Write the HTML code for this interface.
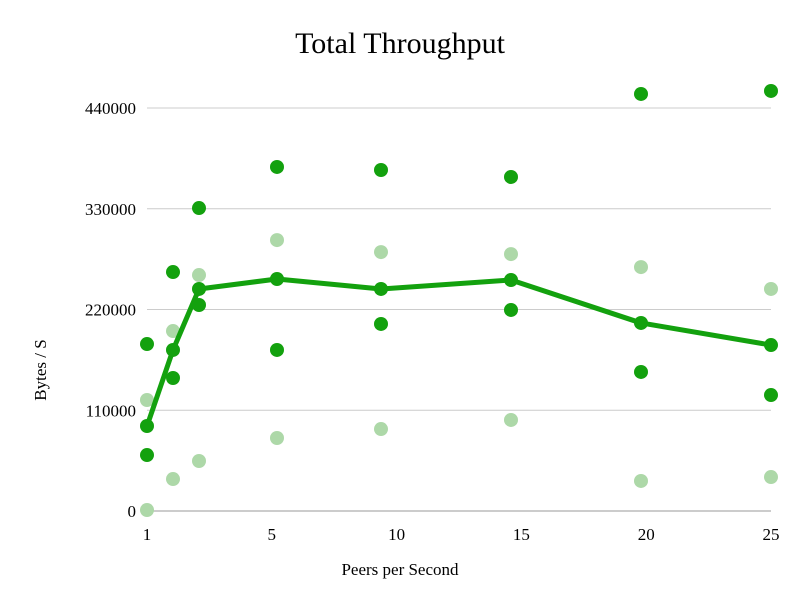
<!DOCTYPE html>
<html><head><meta charset="utf-8"><style>
body{margin:0;background:#fff}
svg{display:block;font-family:"Liberation Serif",serif}
</style></head><body>
<svg id="chart" width="800" height="600">
<text x="400" y="53" text-anchor="middle" font-size="30">Total Throughput</text>
<text x="400" y="575" text-anchor="middle" font-size="17">Peers per Second</text>
<text transform="translate(46,370) rotate(-90)" text-anchor="middle" font-size="17">Bytes / S</text>
<g id="grid"></g><g id="marks"></g>
</svg>
<script>
const xValues=[1,2,3,6,10,15,20,25];
const xTickLabels=["1","5","10","15","20","25"];
const yTicks=[0,110000,220000,330000,440000];
const meanValues=[92800,175800,242400,253300,242400,252200,205300,181200];
const darkHigh=[182300,260900,330800,375600,372300,364700,455300,458600];
const darkLow=[61100,145200,224900,175800,204200,219500,151800,126600];
const lightHigh=[121200,196500,257600,295800,282700,280500,266300,242400];
const lightLow=[1100,34900,54600,79700,89500,99400,32800,37100];
const NS="http://www.w3.org/2000/svg";
const x0=147,x1=771;
const xs=v=>x0+(v-1)*(x1-x0)/24;
const ys=v=>511-v*403/440000;
const grid=document.getElementById('grid'),marks=document.getElementById('marks');
function mk(t,a,p){const e=document.createElementNS(NS,t);for(const k in a)e.setAttribute(k,a[k]);p.appendChild(e);return e;}
yTicks.forEach(v=>{
 const l=mk('line',{x1:x0,x2:x1,y1:ys(v),y2:ys(v),stroke:v===0?'#999':'#ccc','stroke-width':1},grid);
 
 
 const t=mk('text',{x:136,y:ys(v)+6,'text-anchor':'end','font-size':17},grid);
 t.textContent=v;
 
 
});
xTickLabels.forEach((s,i)=>{
 const t=mk('text',{x:x0+i*(x1-x0)/(xTickLabels.length-1),y:540,'text-anchor':'middle','font-size':17},grid);
 t.textContent=s;
 
 
});
function pts(arr,color,name){arr.forEach((v,i)=>{
 const c=mk('circle',{cx:xs(xValues[i]),cy:ys(v),r:7,fill:color},marks);
 
 
});}
pts(lightHigh,'#add8a8','light-high-point');
pts(lightLow,'#add8a8','light-low-point');
const line=mk('polyline',{points:meanValues.map((v,i)=>xs(xValues[i])+','+ys(v)).join(' '),fill:'none',stroke:'#13a10e','stroke-width':5,'stroke-linejoin':'round'},marks);


pts(darkHigh,'#13a10e','dark-high-point');
pts(meanValues,'#13a10e','mean-point');
pts(darkLow,'#13a10e','dark-low-point');
</script>
</body></html>
